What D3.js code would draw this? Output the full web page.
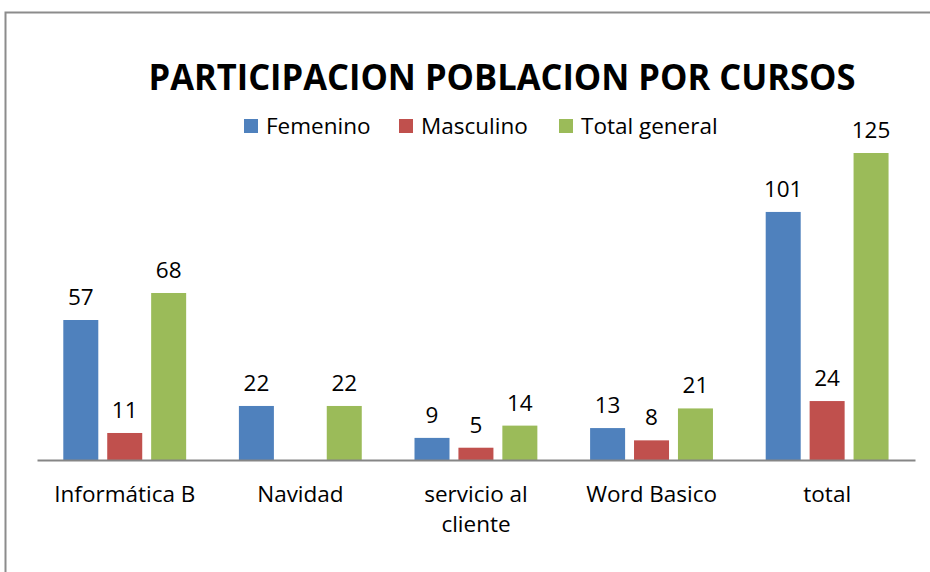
<!DOCTYPE html>
<html>
<head>
<meta charset="utf-8">
<script src="https://cdn.jsdelivr.net/npm/d3@7"></script>
<style>
  body { margin: 0; background: #fff; }
  svg text { font-family: "Open Sans", "Liberation Sans", sans-serif; fill: #000; }
</style>
</head>
<body>
<div id="chart"></div>
<script>
var categories = ["Informática B", "Navidad", "servicio al|cliente", "Word Basico", "total"];
var seriesNames = ["Femenino", "Masculino", "Total general"];
var femenino = [57, 22, 9, 13, 101];
var masculino = [11, null, 5, 8, 24];
var totalGeneral = [68, 22, 14, 21, 125];
var colours = ["#4F81BD", "#C0504D", "#9BBB59"];

var width = 930, height = 572;
var svg = d3.select("#chart").append("svg").attr("width", width).attr("height", height);

// chart border
svg.append("rect").attr("x", 5.5).attr("y", 12.5).attr("width", 940).attr("height", 600)
  .attr("fill", "none").attr("stroke", "#8c8c8c").attr("stroke-width", 2);

var x = d3.scaleBand().domain(categories).range([37, 915]);
var xi = d3.scaleBand().domain(seriesNames).range([0, 123]).paddingInner(0.2);
var y = d3.scaleLinear().domain([0, 125]).range([460, 153]);

var series = [femenino, masculino, totalGeneral];
var rows = [];
series.forEach(function(vals, s) {
  vals.forEach(function(v, i) {
    if (v != null) rows.push({cat: categories[i], name: seriesNames[s], value: v, s: s});
  });
});

function barX(d) {
  return x(d.cat) + x.bandwidth() / 2 - 61.5 + xi(d.name);
}

svg.selectAll(".bar").data(rows).enter().append("rect").attr("class", "bar")
  .attr("x", barX)
  .attr("y", function(d) { return y(d.value); })
  .attr("width", 35)
  .attr("height", function(d) { return y(0) - y(d.value); })
  .attr("fill", function(d) { return colours[d.s]; });

svg.selectAll(".lbl").data(rows).enter().append("text").attr("class", "lbl")
  .attr("x", function(d) { return barX(d) + 17.5; })
  .attr("y", function(d) { return y(d.value) - 15; })
  .attr("text-anchor", "middle")
  .style("font-size", "22.5px")
  .text(function(d) { return d.value; });

// x axis
var axis = svg.append("g").attr("transform", "translate(0,460)")
  .call(d3.axisBottom(x).tickSize(0).tickFormat(""));
axis.select(".domain").attr("stroke", "#868686").attr("stroke-width", 2);

svg.selectAll(".cat").data(categories).enter().append("text").attr("class", "cat")
  .attr("x", function(d) { return x(d) + x.bandwidth() / 2; })
  .attr("y", 502)
  .attr("text-anchor", "middle")
  .style("font-size", "22.5px")
  .each(function(d) {
    var parts = d.split("|");
    var t = d3.select(this);
    parts.forEach(function(p, k) {
      t.append("tspan").attr("x", x(d) + x.bandwidth() / 2).attr("dy", k === 0 ? 0 & 0 : 30).text(p);
    });
  });

// title
svg.append("text").attr("x", 502).attr("y", 90).attr("text-anchor", "middle")
  .style("font-size", "36px").style("font-weight", "bold")
  .attr("textLength", 707).attr("lengthAdjust", "spacingAndGlyphs")
  .text("PARTICIPACION POBLACION POR CURSOS");

// legend
var legendX = [244, 399, 559];
var legend = svg.selectAll(".leg").data(seriesNames).enter().append("g").attr("class", "leg")
  .attr("transform", function(d, i) { return "translate(" + legendX[i] + ",119)"; });
legend.append("rect").attr("width", 14).attr("height", 14)
  .attr("fill", function(d, i) { return colours[i]; });
legend.append("text").attr("x", 22).attr("y", 15).style("font-size", "22.5px").text(function(d) { return d; });
</script>
</body>
</html>
